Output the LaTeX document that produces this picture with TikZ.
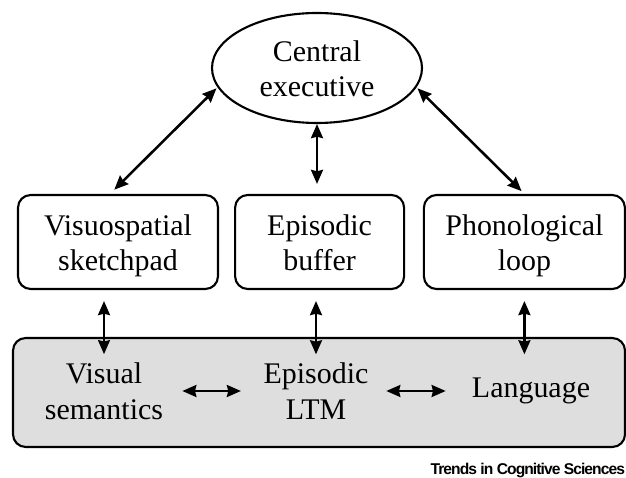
\documentclass[tikz,border=0pt]{standalone}
\usepackage{fontspec}
\setmainfont{Liberation Serif}
\newfontfamily\creditfont{Liberation Sans}[LetterSpace=-6]
\usetikzlibrary{shapes.geometric,arrows.meta,positioning}
\definecolor{ltmGray}{RGB}{222, 222, 222}
\newcommand{\wmfont}{\fontsize{21.3}{25.6}\selectfont}

\begin{document}
\begin{tikzpicture}[
        store/.style={rounded corners=9pt,draw=black,line width=1.5pt,
                     minimum height=2.35cm,align=center,font=\wmfont,inner sep=0pt,
                     text height=1.45cm,text depth=0pt},
        ltmtext/.style={align=center,font=\wmfont,inner sep=0.2cm},
        link/.style={{Stealth[length=10pt,width=8.5pt,inset=1pt]}-{Stealth[length=10pt,width=8.5pt,inset=1pt]},
                     line width=1.8pt}
    ]
        \useasboundingbox (0,0) rectangle (15.65,11.925);

        % Long-term memory
        \node[rounded corners=9pt,fill=ltmGray,draw=black,line width=1.5pt,
              minimum width=15.3cm,minimum height=2.725cm,inner sep=0pt] (ltm) at (7.975,2.1125) {};
        \node[ltmtext] (vissem) at (2.6,2.15) {Visual\\semantics};
        \node[ltmtext] (eltm) at (7.9,2.15) {Episodic\\LTM};
        \node[ltmtext] (lang) at (13.275,2.15) {Language};

        % Central executive
        \node[ellipse,draw=black,line width=1.5pt,minimum width=5.25cm,minimum height=2.75cm,
              inner sep=0pt,align=center,font=\wmfont,text height=1.45cm,text depth=0pt] (central) at (7.925,10.225) {Central\\executive};

        % Slave systems
        \node[store,minimum width=5.0cm] (visuo) at (2.95,5.875) {Visuospatial\\sketchpad};
        \node[store,minimum width=4.225cm] (buffer) at (7.99,5.875) {Episodic\\buffer};
        \node[store,minimum width=5.025cm] (phon) at (13.11,5.875) {Phonological\\loop};

        % Connections
        \draw[link,shorten <=1pt,shorten >=0.15cm] (central.191) -- ([xshift=-0.2cm]visuo.north);
        \draw[link,shorten <=1pt,shorten >=0.1cm] (central.349) -- (phon.north);
        \draw[link,shorten >=0.25cm] (central.south) -- (central.south |- buffer.north);

        \draw[link,shorten <=0.275cm] (vissem.north |- visuo.south) -- (vissem.north);
        \draw[link,shorten <=0.275cm] (eltm.north |- buffer.south) -- (eltm.north);
        \draw[link,shorten <=0.275cm] (phon.south) -- (phon.south |- eltm.north);

        \draw[link,shorten <=0.275cm,shorten >=0.36cm] (vissem) -- (eltm);
        \draw[link,shorten <=0.24cm,shorten >=0.45cm] (eltm) -- (lang);

        \node[anchor=east,inner sep=0pt,font=\creditfont\bfseries\fontsize{11.1}{13}\selectfont] (credit) at (15.63,0.175) {Trends in Cognitive Sciences};
    \end{tikzpicture}
\end{document}
